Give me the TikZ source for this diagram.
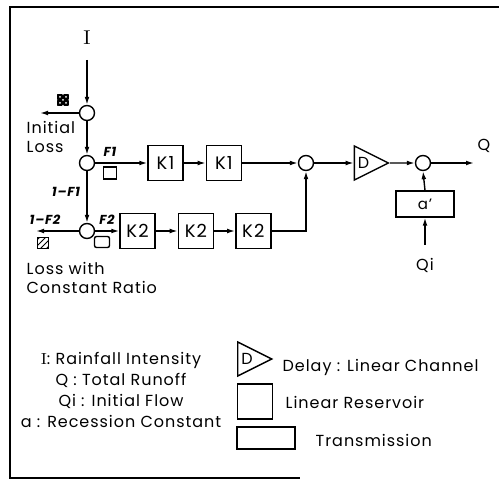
\documentclass[tikz,border=0pt]{standalone}
\usepackage{fontspec}
\setsansfont{Poppins}[LetterSpace=6]
\usetikzlibrary{shapes.geometric,arrows.meta,positioning,calc,patterns}

\begin{document}
\begin{tikzpicture}[
  x=0.5pt, y=-0.5pt,
  line width=0.7pt,
  junc/.style={circle, draw, minimum size=7.5pt, inner sep=0pt},
  res/.style={
    rectangle, draw, inner sep=0pt,
    minimum width=17.5pt, minimum height=17.5pt,
    font=\sffamily\fontsize{9}{10}\selectfont},
  trans/.style={
    rectangle, draw, inner sep=0pt,
    minimum width=29pt, minimum height=12pt,
    font=\sffamily\fontsize{7.5}{9}\selectfont},
  delaytri/.style={
    isosceles triangle, draw, isosceles triangle stretches,
    minimum width=17pt, minimum height=17pt, inner sep=0pt,
    font=\sffamily\fontsize{8}{9}\selectfont},
  losssym/.style={rectangle, draw, inner sep=0pt, minimum size=5.5pt},
  txt/.style={font=\sffamily\fontsize{8}{9.3}\selectfont, inner sep=0pt},
  flow/.style={font=\sffamily\bfseries\itshape\fontsize{6.5}{7}\selectfont, inner sep=0pt},
  arr/.style={-{Latex[length=4pt,width=2.4pt]}},
]
  \useasboundingbox (0,0) rectangle (499,481);

  % frame
  \draw (499,7) -- (10,7) -- (10,478) -- (300,478);

  % ── Input and losses ────────────────────────────────────────────────────
  \node[font=\rmfamily\fontsize{10}{11}\selectfont] (rain) at (87,38) {I};
  \coordinate (rtop) at (87,60);
  \node[junc] (jloss)   at (87,113) {};
  \node[junc] (jsplit1) at (87,163) {};
  \node[junc] (jsplit2) at (87,231) {};
  \coordinate (lossA) at (40,113);
  \coordinate (lossB) at (36,231);

  \node[losssym, fill=black, postaction={pattern=crosshatch dots, pattern color=white}]
      (chk) at (63,100) {};
  \node[losssym, pattern=north east lines] (hatch) at (43,243) {};
  \node[losssym, minimum width=6.5pt, minimum height=6pt] (sq1) at (110,173) {};
  \node[losssym, rounded corners=1pt, minimum width=7.5pt] (sq2) at (102,242) {};

  \node[txt, align=left, anchor=north west] (iloss) at (26,121) {Initial\\Loss};
  \node[txt, align=left, anchor=north west] (closs) at (26,262) {Loss with\\Constant Ratio};
  \node[flow] (lf1)  at (110,152) {F1};
  \node[flow] (lf1c) at (66,192)  {1--F1};
  \node[flow] (lf2)  at (107,220) {F2};
  \node[flow] (lf2c) at (45,220)  {1--F2};

  % ── Reservoir chains ────────────────────────────────────────────────────
  \node[res] (k1a) at (165.5,163) {K1};
  \node[res, right=11pt of k1a] (k1b) {K1};
  \node[res] (k2a) at (137.5,231) {K2};
  \node[res, right=11pt of k2a]   (k2b) {K2};
  \node[res, right=10.5pt of k2b] (k2c) {K2};

  % ── Delay and output ────────────────────────────────────────────────────
  \node[junc] (jsum) at (306,163) {};
  \node[delaytri, right=19.75pt of jsum] (delay) {D};
  \node[junc] (jout) at (423,163) {};
  \node[trans, minimum height=13pt] (recess) at (425,204) {a'};
  \coordinate (qin)  at (425,245);
  \coordinate (qend) at (474,163);
  \node[txt] (qlbl)  at (484,146) {Q};
  \node[txt] (qilbl) at (425,265) {Qi};

  % ── Connectors ──────────────────────────────────────────────────────────
  \draw[arr] (rtop) -- (jloss.north);
  \draw[arr] (jloss.west) -- (lossA);
  \draw[arr] (jloss.south) -- (jsplit1.north);
  \draw[arr] (jsplit1.east) -- (k1a.west);
  \draw[arr] (k1a) -- (k1b);
  \draw[arr] (k1b) -- (jsum);
  \draw[arr] (jsplit1.south) -- (jsplit2.north);
  \draw[arr] (jsplit2.west) -- (lossB);
  \draw[arr] (jsplit2) -- (k2a);
  \draw[arr] (k2a) -- (k2b);
  \draw[arr] (k2b) -- (k2c);
  \draw[arr] (k2c.east) -| (jsum.south);
  \draw[arr] (jsum) -- (delay.west);
  \draw[arr] (delay.apex) -- (jout.west);
  \draw[arr] (jout.east) -- (qend);
  \draw[arr] (recess.north) -- (jout.south);
  \draw[arr] (qin) -- (recess.south);

  % ── Key ─────────────────────────────────────────────────────────────────
  \node[txt, align=center, font=\sffamily\fontsize{8}{10.5}\selectfont]
      (keys) at (121,390)
      {{\rmfamily I}: Rainfall Intensity\\
       Q : Total Runoff\\
       Qi : Initial Flow\\
       a : Recession Constant};
  \node[delaytri, anchor=west] (keydelay) at (237,359) {D};
  \node[res] (keyres) at (255,401.5) {};
  \node[trans, minimum height=11pt] (keytrans) at (266,438) {};
  \node[txt, anchor=west] (kd) at (282,367) {Delay : Linear Channel};
  \node[txt, anchor=west] (kr) at (285,402) {Linear Reservoir};
  \node[txt, anchor=west] (kt) at (315,440) {Transmission};

\end{tikzpicture}
\end{document}
